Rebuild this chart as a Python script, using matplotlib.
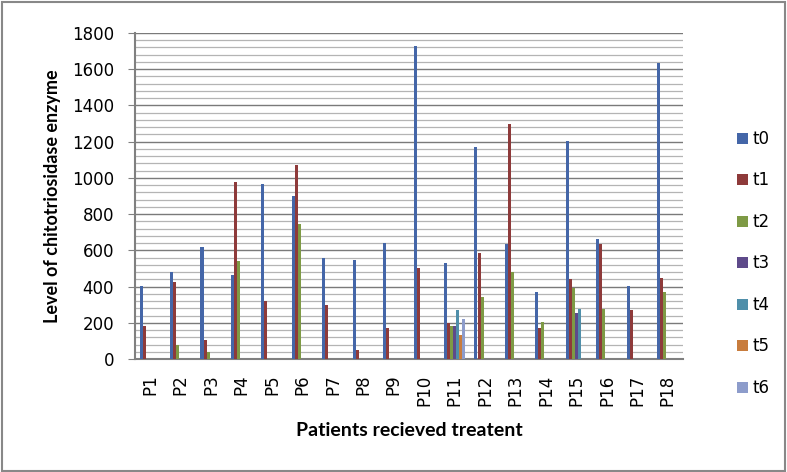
import numpy as np
import matplotlib
matplotlib.use('Agg')
import matplotlib.pyplot as plt
from matplotlib.patches import Rectangle

patients = ['P%d' % i for i in range(1, 19)]
series = ['t0', 't1', 't2', 't3', 't4', 't5', 't6']

t0 = [405, 483, 617, 462, 965, 901, 560, 547, 641, 1726, 529, 1170, 636, 370, 1205, 665, 405, 1634]
t1 = [182, 427, 105, 975, 319, 1070, 300, 48, 169, 505, 199, 584, 1295, 173, 444, 637, 273, 450]
t2 = [0, 77, 40, 542, 0, 748, 0, 0, 0, 0, 182, 343, 479, 206, 392, 278, 0, 368]
t3 = [0, 0, 0, 0, 0, 0, 0, 0, 0, 0, 182, 0, 0, 0, 252, 0, 0, 0]
t4 = [0, 0, 0, 0, 0, 0, 0, 0, 0, 0, 269, 0, 0, 0, 275, 0, 0, 0]
t5 = [0, 0, 0, 0, 0, 0, 0, 0, 0, 0, 131, 0, 0, 0, 0, 0, 0, 0]
t6 = [0, 0, 0, 0, 0, 0, 0, 0, 0, 0, 219, 0, 0, 0, 0, 0, 0, 0]
values = [t0, t1, t2, t3, t4, t5, t6]

colors = ['#4466A8', '#8E3A3A', '#7E9A45', '#5E4A8A', '#4F8FAA', '#C87C3D', '#8D9CCB']

plt.rcParams['font.family'] = ['DejaVu Sans']

fig = plt.figure(figsize=(7.87, 4.72), dpi=100)
ax = fig.add_axes([135 / 787, 1 - 359 / 472, (683 - 135) / 787, (359 - 33) / 472])

# rahmen um die ganze grafik
fig.patches.append(Rectangle((0.002, 0.003), 0.995, 0.993, transform=fig.transFigure,
                             fill=False, edgecolor='#888888', linewidth=1.5))

x = np.arange(len(patients))
w = 0.1
for i, (name, vals) in enumerate(zip(series, values)):
    ax.bar(x + (i - 3) * w, vals, width=w, color=colors[i], label=name, zorder=3)

ax.set_xlim(-0.5, len(patients) - 0.5)
ax.set_ylim(0, 1800)
ax.set_yticks(np.arange(0, 1801, 200))
ax.set_yticks(np.arange(0, 1801, 40), minor=True)
ax.grid(True, which='major', axis='y', color='#7a7a7a', linewidth=1.0, zorder=0)
ax.grid(True, which='minor', axis='y', color='#b4b4b4', linewidth=0.9, zorder=0)

ax.set_xticks(x)
ax.set_xticklabels(patients, rotation=90, fontsize=12)
ax.tick_params(axis='x', length=0, pad=11)
ax.tick_params(axis='y', which='major', labelsize=12, length=5, color='#808080', pad=10)
ax.tick_params(axis='y', which='minor', length=0)

for s in ['top', 'right']:
    ax.spines[s].set_visible(False)
ax.spines['left'].set_color('#808080')
ax.spines['left'].set_linewidth(1.5)
ax.spines['bottom'].set_color('#808080')
ax.spines['bottom'].set_linewidth(1.5)

ax.set_ylabel('Level of chitotriosidase enzyme', fontsize=13, fontweight='bold',
              family=['Lato', 'DejaVu Sans'], labelpad=8)
ax.set_xlabel('Patients recieved treatent', fontsize=14, fontweight='bold',
              family=['Lato', 'DejaVu Sans'], labelpad=12)

ax.legend(loc='center left', bbox_to_anchor=(1.071, 0.293), frameon=False, fontsize=12,
          handlelength=0.65, handleheight=0.65, labelspacing=1.41, handletextpad=0.3)

fig.savefig('out.png', dpi=100)
